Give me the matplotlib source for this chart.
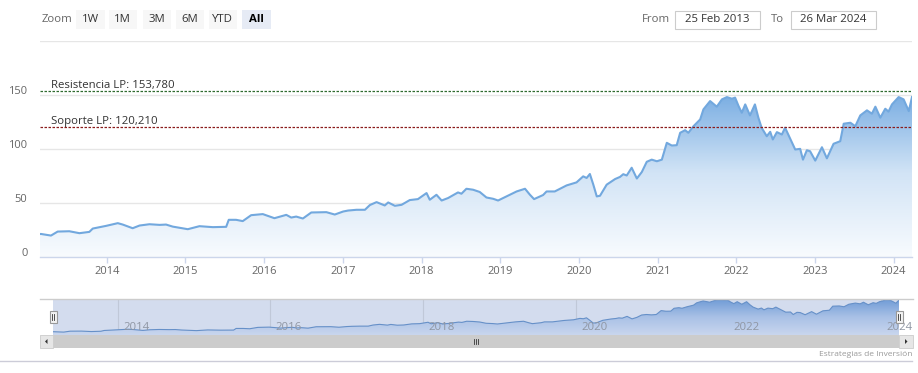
import matplotlib
matplotlib.use("Agg")
import matplotlib.pyplot as plt
import matplotlib.dates as mdates
import numpy as np
from matplotlib.patches import Rectangle, PathPatch, Polygon
from matplotlib.colors import LinearSegmentedColormap
from matplotlib.transforms import ScaledTranslation

plt.rcParams['font.family'] = ['Open Sans', 'DejaVu Sans']

# price series
dates = ["2013-02-25", "2013-03-01", "2013-04-17", "2013-05-18", "2013-07-11", "2013-08-27",
         "2013-10-12", "2013-10-28", "2013-12-29", "2014-02-21", "2014-03-16", "2014-05-01",
         "2014-06-02", "2014-07-18", "2014-09-03", "2014-10-03", "2014-11-03", "2015-01-12",
         "2015-03-07", "2015-05-08", "2015-07-09", "2015-07-21", "2015-08-24", "2015-09-24",
         "2015-11-02", "2015-12-26", "2016-02-18", "2016-04-13", "2016-05-06", "2016-05-29",
         "2016-06-29", "2016-08-07", "2016-10-16", "2016-11-24", "2017-01-02", "2017-01-25",
         "2017-03-05", "2017-04-13", "2017-05-06", "2017-06-06", "2017-07-14", "2017-07-30",
         "2017-08-30", "2017-09-30", "2017-11-07", "2017-12-15", "2018-01-24", "2018-02-08",
         "2018-03-11", "2018-04-04", "2018-05-04", "2018-06-19", "2018-07-05", "2018-07-28",
         "2018-08-28", "2018-09-28", "2018-10-29", "2018-11-29", "2018-12-22", "2019-01-30",
         "2019-03-18", "2019-04-26", "2019-05-19", "2019-06-07", "2019-07-19", "2019-08-04",
         "2019-09-11", "2019-09-27", "2019-11-05", "2019-12-21", "2020-01-21", "2020-02-06",
         "2020-02-21", "2020-03-08", "2020-03-24", "2020-04-08", "2020-05-09", "2020-06-17",
         "2020-07-10", "2020-07-25", "2020-08-10", "2020-09-02", "2020-09-26", "2020-10-19",
         "2020-11-11", "2020-12-04", "2020-12-28", "2021-01-20", "2021-02-12", "2021-03-07",
         "2021-03-30", "2021-04-15", "2021-05-08", "2021-05-23", "2021-06-16", "2021-07-17",
         "2021-08-01", "2021-09-01", "2021-10-02", "2021-10-26", "2021-11-18", "2021-12-11",
         "2021-12-26", "2022-01-11", "2022-01-26", "2022-02-11", "2022-03-05", "2022-03-28",
         "2022-04-13", "2022-04-28", "2022-05-22", "2022-06-07", "2022-06-19", "2022-07-08",
         "2022-07-31", "2022-08-15", "2022-09-08", "2022-10-01", "2022-10-24", "2022-11-06",
         "2022-11-24", "2022-12-09", "2023-01-02", "2023-02-02", "2023-02-25", "2023-03-28",
         "2023-04-28", "2023-05-14", "2023-06-14", "2023-07-07", "2023-07-30", "2023-08-30",
         "2023-09-22", "2023-10-08", "2023-10-31", "2023-11-23", "2023-12-08", "2023-12-24",
         "2024-01-24", "2024-02-16", "2024-03-11", "2024-03-26"]
prices = [21.0, 21.1, 19.6, 23.3, 23.6, 21.8,
          23.0, 26.1, 28.6, 31.1, 29.8, 26.4,
          28.9, 30.1, 29.5, 29.8, 27.9, 25.5,
          28.3, 27.4, 27.7, 34.2, 34.2, 33.0,
          38.5, 39.5, 35.7, 38.8, 36.3, 37.2,
          35.4, 41.0, 41.3, 39.1, 41.9, 42.8,
          43.5, 43.5, 47.9, 50.6, 47.5, 50.3,
          47.2, 48.1, 52.5, 53.4, 59.0, 52.8,
          57.4, 52.1, 54.4, 59.6, 58.4, 63.0,
          62.1, 60.0, 54.9, 53.7, 52.1, 55.9,
          60.5, 63.0, 57.4, 53.4, 57.2, 60.5,
          60.5, 62.1, 66.1, 68.9, 74.5, 73.0,
          76.7, 66.8, 55.9, 56.5, 66.8, 72.0,
          74.0, 76.5, 75.3, 82.5, 72.5, 78.5,
          88.0, 90.0, 88.5, 90.0, 105.6, 103.1,
          103.4, 114.9, 117.3, 114.9, 121.0, 127.3,
          136.6, 144.3, 139.1, 145.9, 148.0, 146.5,
          147.5, 139.7, 133.5, 141.2, 131.0, 141.2,
          128.9, 119.6, 111.7, 115.8, 108.7, 115.5,
          113.3, 119.6, 109.3, 99.4, 100.0, 90.0,
          98.7, 97.8, 89.1, 101.5, 91.2, 104.7,
          107.1, 123.3, 124.2, 121.0, 131.0, 135.7,
          132.6, 139.1, 128.9, 137.2, 134.5, 141.2,
          148.0, 145.9, 135.0, 148.0]

resistance = 153.78
support = 120.21
resistance_label = "Resistencia LP: 153,780"
support_label = "Soporte LP: 120,210"
y_ticks = [0, 50, 100, 150, 200]
zoom_buttons = ["1W", "1M", "3M", "6M", "YTD", "All"]
date_from = "25 Feb 2013"
date_to = "26 Mar 2024"
credit = "Estrategias de Inversión"

W, H = 918, 373


def fx(px):
    return px / W


def fy(py):
    return 1 - py / H


x = mdates.date2num(np.array(dates, dtype="datetime64[D]"))
y = np.array(prices)
x0 = mdates.date2num(np.datetime64("2013-02-25"))
x1 = mdates.date2num(np.datetime64("2024-03-26"))

fig = plt.figure(figsize=(W / 100, H / 100), dpi=100)
fig.patch.set_facecolor("white")

main_cmap = LinearSegmentedColormap.from_list("fill", ["#f8fbfe", "#d2e4f6", "#74aae1"])
nav_cmap = LinearSegmentedColormap.from_list("navfill", ["#c9d6ee", "#a9c1e6", "#6f9bd6"])


def gradient_area(ax, xs, ys, top, lo, hi, cmap):
    poly = ax.fill_between(xs, ys, lo, color="none", lw=0)
    patch = PathPatch(poly.get_paths()[0], transform=ax.transData, fc="none", ec="none")
    ax.add_patch(patch)
    grad = np.linspace(0, 1, 256).reshape(-1, 1)
    im = ax.imshow(grad, extent=[xs[0], xs[-1], lo, top], origin="lower", aspect="auto",
                   cmap=cmap, zorder=1, interpolation="bicubic")
    im.set_clip_path(patch)
    ax.set_ylim(lo, hi)


# ---- main chart
ax = fig.add_axes([fx(40), fy(256.7), fx(912) - fx(40), fy(41) - fy(256.7)])
gradient_area(ax, x, y, 155, 0, 200, main_cmap)
ax.plot(x, y, color="#72a8de", lw=1.5, zorder=3)
ax.set_xlim(x0, x1)
ax.set_ylim(0, 200)

ax.axhline(resistance, color="#2f6b2f", lw=0.9, ls=(0, (2, 1.2)), zorder=4)
ax.axhline(support, color="#8b1c1c", lw=0.9, ls=(0, (2, 1.2)), zorder=4)
lbl_x = 11 / 872
ax.text(lbl_x, resistance, resistance_label, transform=ax.get_yaxis_transform(),
        fontsize=8.2, color="#333333", va="bottom", ha="left", zorder=5)
ax.text(lbl_x, support, support_label, transform=ax.get_yaxis_transform(),
        fontsize=8.2, color="#333333", va="bottom", ha="left", zorder=5)

ax.set_yticks(y_ticks)
ax.set_yticklabels([str(v) if v < 200 else "" for v in y_ticks])
ax.grid(axis="y", color="#e6e6e6", lw=1)
ax.set_axisbelow(True)
ax.tick_params(axis="y", length=0, pad=9, labelsize=8, labelcolor="#666666")
for lab in ax.get_yticklabels():
    lab.set_transform(lab.get_transform() + ScaledTranslation(0, 0.05, fig.dpi_scale_trans))

ax.xaxis.set_major_locator(mdates.YearLocator())
ax.xaxis.set_major_formatter(mdates.DateFormatter("%Y"))
ax.tick_params(axis="x", length=4, width=1, color="#ccd6eb", pad=3, labelsize=8,
               labelcolor="#666666")
for s in ["top", "left", "right"]:
    ax.spines[s].set_visible(False)
ax.spines["bottom"].set_color("#ccd6eb")
ax.spines["bottom"].set_linewidth(1)
ax.patch.set_alpha(0)

# ---- navigator (whole range selected, so it sits under the mask tint)
nav = fig.add_axes([fx(53), fy(335), fx(899) - fx(53), fy(299) - fy(335)])
nav.set_facecolor("#d3dcee")
gradient_area(nav, x, y, 150, 8, 152, nav_cmap)
nav.plot(x, y, color="#6690c8", lw=0.8, zorder=3)
nav.set_xlim(x0, x1)
nav.set_ylim(8, 152)
nav.xaxis.set_major_locator(mdates.YearLocator(2))
nav.grid(axis="x", color="#c0c8d8", lw=0.8)
nav.set_axisbelow(True)
nav.set_yticks([])
nav.tick_params(axis="x", length=0, labelbottom=False)
for s in nav.spines.values():
    s.set_visible(False)
for yr in range(2014, 2025, 2):
    xv = mdates.date2num(np.datetime64(f"{yr}-01-01"))
    nav.text(xv + 25, 0.2, str(yr), transform=nav.get_xaxis_transform(), fontsize=8.2,
             color="#8f96a3", ha="left", va="center", zorder=5)

# ---- overlay drawing in figure pixels
ov = fig.add_axes([0, 0, 1, 1])
ov.set_xlim(0, W)
ov.set_ylim(H, 0)
ov.axis("off")
ov.patch.set_alpha(0)

# navigator outline and handles
ov.plot([40, 913], [299, 299], color="#cccccc", lw=1)
for hx in (53, 899):
    ov.add_patch(Rectangle((hx - 3.5, 311), 7, 12, fc="#f2f2f2", ec="#999999", lw=0.8, zorder=6))
    ov.plot([hx - 1, hx - 1], [314, 320], color="#333333", lw=0.6, zorder=7)
    ov.plot([hx + 1, hx + 1], [314, 320], color="#333333", lw=0.6, zorder=7)

# scrollbar
ov.add_patch(Rectangle((40, 335), 873, 13, fc="#f2f2f2", ec="none"))
ov.add_patch(Rectangle((53, 335), 846, 13, fc="#cccccc", ec="none"))
ov.add_patch(Rectangle((40, 335), 13, 13, fc="#e6e6e6", ec="#cccccc", lw=0.6))
ov.add_patch(Rectangle((899, 335), 14, 13, fc="#e6e6e6", ec="#cccccc", lw=0.6))
ov.add_patch(Polygon([[47.5, 339], [47.5, 344], [45, 341.5]], closed=True, fc="#333333", ec="none"))
ov.add_patch(Polygon([[905, 339], [905, 344], [907.5, 341.5]], closed=True, fc="#333333", ec="none"))
for gx in (474, 476, 478):
    ov.plot([gx, gx], [339, 344], color="#333333", lw=0.6)

# bottom separator and credit
ov.plot([0, 912], [361, 361], color="#ccccd8", lw=1)
ov.text(912, 354, credit, fontsize=6, color="#999999", ha="right", va="center")

# range selector
ov.text(42, 20, "Zoom", fontsize=8.2, color="#666666", ha="left", va="center")
btn_x = [76, 108.5, 142.5, 175.5, 208.5, 242]
btn_w = [28.5, 28.5, 28.5, 28.5, 28.5, 28.5]
for lbl, bx, bw in zip(zoom_buttons, btn_x, btn_w):
    sel = lbl == "All"
    ov.add_patch(Rectangle((bx, 10), bw, 19, fc="#e6ebf5" if sel else "#f7f7f7", ec="none"))
    ov.text(bx + bw / 2, 19.5, lbl, fontsize=8.2, color="#000000" if sel else "#333333",
            fontweight="bold" if sel else "normal", ha="center", va="center")

ov.text(642, 20, "From", fontsize=8.2, color="#666666", ha="left", va="center")
ov.add_patch(Rectangle((675, 10.7), 85, 18.6, fc="white", ec="#cccccc", lw=0.8))
ov.text(717.5, 20, date_from, fontsize=8.2, color="#333333", ha="center", va="center")
ov.text(771, 20, "To", fontsize=8.2, color="#666666", ha="left", va="center")
ov.add_patch(Rectangle((791, 10.7), 85, 18.6, fc="white", ec="#cccccc", lw=0.8))
ov.text(833.5, 20, date_to, fontsize=8.2, color="#333333", ha="center", va="center")

fig.savefig("out.png", dpi=100)
